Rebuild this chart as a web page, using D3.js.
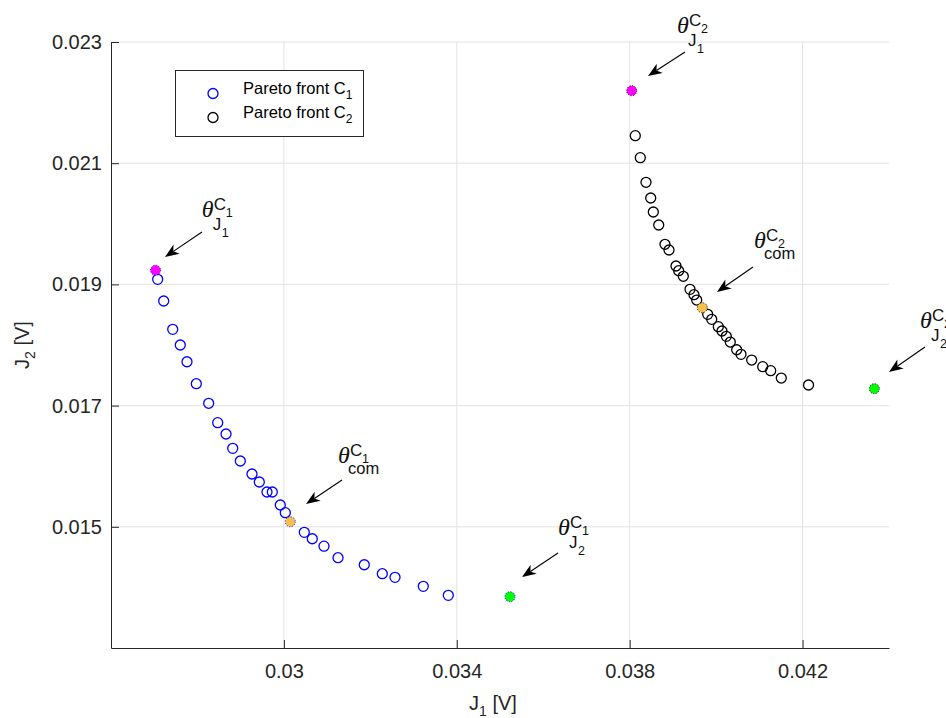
<!DOCTYPE html>
<html>
<head>
<meta charset="utf-8">
<script src="https://cdn.jsdelivr.net/npm/d3@7"></script>
<style>
  html, body { margin: 0; padding: 0; background: #fff; }
  svg { display: block; }
</style>
</head>
<body>
<svg id="chart" width="946" height="718"></svg>
<script>
// Pareto front C1 (blue circles)
const c1X = [0.02708, 0.027219, 0.027428, 0.027603, 0.027758, 0.027974, 0.02826, 0.028469,
             0.028661, 0.028816, 0.028992, 0.029262, 0.029431, 0.029609, 0.029732, 0.029917,
             0.030033, 0.030472, 0.030657, 0.030928, 0.031252, 0.03186, 0.032277, 0.032571,
             0.033225, 0.033804];
const c1Y = [0.019084, 0.018726, 0.018259, 0.018, 0.017724, 0.017361, 0.017038, 0.016718,
             0.016531, 0.016295, 0.016086, 0.015871, 0.015739, 0.015574, 0.015574, 0.01536,
             0.015233, 0.014909, 0.014803, 0.01468, 0.01449, 0.014374, 0.014226, 0.014166,
             0.014018, 0.013869];

// Pareto front C2 (black circles)
const c2X = [0.03813, 0.038246, 0.038378, 0.038487, 0.038547, 0.038672, 0.038817, 0.03891,
             0.039072, 0.039134, 0.039241, 0.039396, 0.039488, 0.039551, 0.039805, 0.039898,
             0.040051, 0.040136, 0.040236, 0.040328, 0.040476, 0.040576, 0.040823, 0.041078,
             0.041263, 0.041508, 0.042138];
const c2Y = [0.021454, 0.021091, 0.020685, 0.020426, 0.020195, 0.01998, 0.019662, 0.019568,
             0.019304, 0.019226, 0.019134, 0.018919, 0.01883, 0.018742, 0.018506, 0.018424,
             0.018302, 0.018231, 0.018143, 0.018049, 0.017922, 0.017846, 0.017752, 0.017642,
             0.017576, 0.017455, 0.01734];

// highlighted solutions: [C1, C2]
const thetaJ1X  = [0.02703, 0.038047],  thetaJ1Y  = [0.019233, 0.022196];
const thetaComX = [0.030148, 0.03968],  thetaComY = [0.015084, 0.018615];
const thetaJ2X  = [0.035231, 0.04366],  thetaJ2Y  = [0.013846, 0.017279];

// annotations
const annFront = [1, 2, 1, 2, 1, 2];
const annSub   = ["J1", "J1", "com", "com", "J2", "J2"];
const annTipX  = [0.027249, 0.038424, 0.030512, 0.04002, 0.035509, 0.044];
const annTipY  = [0.019452, 0.022439, 0.015376, 0.018874, 0.014171, 0.017554];
const annTailX = [0.028105, 0.03928, 0.031344, 0.040853, 0.036342, 0.044833];
const annTailY = [0.019865, 0.022835, 0.015772, 0.019287, 0.014567, 0.017967];
const annTextX = [0.028098, 0.039095, 0.031252, 0.040876, 0.036342, 0.044717];
const annTextY = [0.020112, 0.023149, 0.016053, 0.019601, 0.014864, 0.01828];

const xTicks = [0.03, 0.034, 0.038, 0.042];
const yTicks = [0.015, 0.017, 0.019, 0.021, 0.023];
const legendLabels = ["Pareto front C", "Pareto front C"];
const legendSubs = ["1", "2"];

const sans = "'Liberation Sans', Arial, Helvetica, sans-serif";
const serif = "'Liberation Serif', 'Times New Roman', serif";
const axisColor = "#262626";
const frontColor = ["#0000ff", "#000000"];

const svg = d3.select("#chart");

const x = d3.scaleLinear().domain([0.026, 0.044]).range([111, 889]);
const y = d3.scaleLinear().domain([0.013, 0.023]).range([648, 42]);
const fmt = d => String(+d.toFixed(3));

// grid
const grid = svg.append("g").attr("stroke", "#e3e3e3").attr("stroke-width", 1);
grid.selectAll(".gx").data(xTicks).join("line")
    .attr("x1", d => x(d)).attr("x2", d => x(d))
    .attr("y1", y.range()[0]).attr("y2", y.range()[1]);
grid.selectAll(".gy").data(yTicks).join("line")
    .attr("y1", d => y(d)).attr("y2", d => y(d))
    .attr("x1", x.range()[0]).attr("x2", x.range()[1]);

// axes
const gx = svg.append("g").attr("transform", `translate(0,${y.range()[0]})`)
    .call(d3.axisBottom(x).tickValues(xTicks).tickFormat(fmt).tickSize(-8).tickSizeOuter(0).tickPadding(16));
const gy = svg.append("g").attr("transform", `translate(${x.range()[0]},0)`)
    .call(d3.axisLeft(y).tickValues(yTicks).tickFormat(fmt).tickSize(-8).tickSizeOuter(0).tickPadding(9));
[gx, gy].forEach(g => {
    g.selectAll("path, line").attr("stroke", axisColor);
    g.selectAll("text").attr("fill", axisColor).attr("font-family", sans).attr("font-size", 20);
});

// axis labels
const xl = svg.append("text").attr("x", 493).attr("y", 710)
    .attr("text-anchor", "middle").attr("font-family", sans).attr("font-size", 20).attr("fill", axisColor);
xl.append("tspan").text("J");
xl.append("tspan").attr("font-size", 14).attr("dy", 6).text("1");
xl.append("tspan").attr("dy", -6).text(" [V]");

const yl = svg.append("text").attr("transform", "translate(29,345) rotate(-90)")
    .attr("text-anchor", "middle").attr("font-family", sans).attr("font-size", 20).attr("fill", axisColor);
yl.append("tspan").text("J");
yl.append("tspan").attr("font-size", 14).attr("dy", 6).text("2");
yl.append("tspan").attr("dy", -6).text(" [V]");

// fronts
const fronts = [[c1X, c1Y], [c2X, c2Y]];
fronts.forEach(([fx, fy], i) => {
    svg.append("g").selectAll("circle").data(fx).join("circle")
        .attr("cx", d => x(d)).attr("cy", (d, j) => y(fy[j])).attr("r", 5)
        .attr("fill", "none").attr("stroke", frontColor[i]).attr("stroke-width", 1.3);
});

// highlighted points
const specials = [
    [thetaJ1X, thetaJ1Y, "#ff00ff"],
    [thetaComX, thetaComY, "#f9c04c"],
    [thetaJ2X, thetaJ2Y, "#00ff00"]
];
specials.forEach(([sx, sy, col]) => {
    svg.append("g").selectAll("circle").data(sx).join("circle")
        .attr("cx", d => x(d)).attr("cy", (d, j) => y(sy[j])).attr("r", 5)
        .attr("fill", col).attr("stroke", (d, j) => frontColor[j])
        .attr("stroke-width", 1).attr("stroke-dasharray", "1,1.6");
});

// annotations
const ann = svg.append("g");
annFront.forEach((front, i) => {
    const tx = x(annTailX[i]), ty = y(annTailY[i]);
    const px = x(annTipX[i]), py = y(annTipY[i]);
    const len = Math.hypot(px - tx, py - ty);
    const ux = (px - tx) / len, uy = (py - ty) / len;
    const hl = 14, hw = 5.5;
    const bx = px - ux * hl, by = py - uy * hl;
    const nx = px - ux * hl * 0.72, ny = py - uy * hl * 0.72;
    ann.append("line").attr("x1", tx).attr("y1", ty).attr("x2", nx).attr("y2", ny)
        .attr("stroke", "#000").attr("stroke-width", 1.1);
    ann.append("path")
        .attr("d", `M${px},${py}L${bx - uy * hw},${by + ux * hw}L${nx},${ny}L${bx + uy * hw},${by - ux * hw}Z`)
        .attr("fill", "#000");

    const x0 = x(annTextX[i]), y0 = y(annTextY[i]);
    const t = ann.append("g").attr("fill", "#111").attr("font-family", sans);
    t.append("text").attr("x", x0).attr("y", y0).attr("font-family", serif)
        .attr("font-style", "italic").attr("font-size", 24).text("θ");
    t.append("text").attr("x", x0 + 12).attr("y", y0 - 7).attr("font-size", 17).text("C");
    t.append("text").attr("x", x0 + 24).attr("y", y0).attr("font-size", 12.5).text(String(front));
    if (annSub[i] === "com") {
        t.append("text").attr("x", x0 + 10).attr("y", y0 + 11).attr("font-size", 16.5).text("com");
    } else {
        t.append("text").attr("x", x0 + 11).attr("y", y0 + 13).attr("font-size", 17).text("J");
        t.append("text").attr("x", x0 + 20).attr("y", y0 + 20).attr("font-size", 12.5).text(annSub[i].slice(1));
    }
});

// legend
const leg = svg.append("g");
leg.append("rect").attr("x", 175.5).attr("y", 70.5).attr("width", 188).attr("height", 66)
    .attr("fill", "#fff").attr("stroke", axisColor).attr("stroke-width", 1);
legendLabels.forEach((lab, i) => {
    const cy = 93.5 + i * 24;
    leg.append("circle").attr("cx", 213).attr("cy", cy).attr("r", 5)
        .attr("fill", "none").attr("stroke", frontColor[i]).attr("stroke-width", 1.3);
    const tt = leg.append("text").attr("x", 243).attr("y", cy)
        .attr("font-family", sans).attr("font-size", 16.5).attr("fill", "#000");
    tt.append("tspan").text(lab);
    tt.append("tspan").attr("font-size", 12).attr("dy", 5).text(legendSubs[i]);
});
</script>
</body>
</html>
